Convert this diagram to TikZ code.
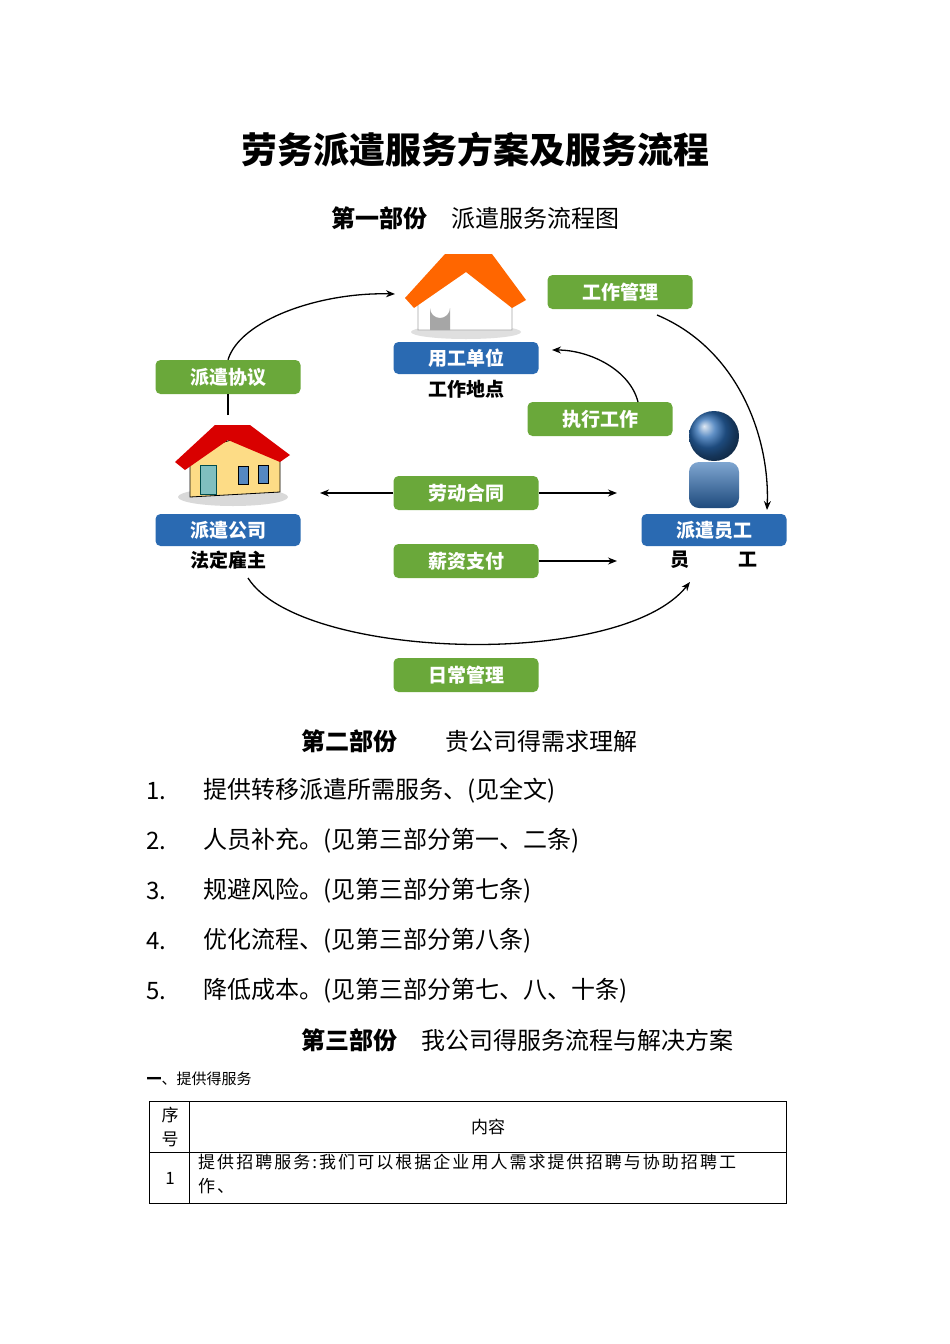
\documentclass[tikz,border=0pt]{standalone}
\usepackage{fontspec}
\setmainfont{Noto Sans CJK SC}
\usetikzlibrary{arrows.meta}
\definecolor{gbox}{HTML}{6AA83A}
\definecolor{bbox}{HTML}{2A6AB2}
\tikzset{
 gnode/.style={rounded corners=5pt,fill=gbox,text=white,font=\fontsize{19}{22}\selectfont\bfseries,minimum width=145pt,minimum height=34pt},
 bnode/.style={rounded corners=5pt,fill=bbox,text=white,font=\fontsize{19}{22}\selectfont\bfseries,minimum width=145pt,minimum height=32pt},
 klab/.style={font=\fontsize{19}{22}\selectfont\bfseries},
 arr/.style={-{Stealth[length=9pt,width=7pt]},line width=1.3pt},
 body/.style={font=\fontsize{24}{28}\selectfont,anchor=west},
}
\begin{document}
\begin{tikzpicture}[x=1pt,y=-1pt]
\useasboundingbox[fill=white] (0,0) rectangle (950,1344);
\node[font=\fontsize{36}{40}\selectfont\bfseries] (title) at (475,150) {劳务派遣服务方案及服务流程};
\node[font=\fontsize{24}{28}\selectfont] (p1) at (475,218) {\textbf{第一部份}\quad 派遣服务流程图};
% top house
\fill[gray!25] (466,332) ellipse (55 and 7);
\fill[white,draw=gray!70,line width=0.8pt] (418,290) -- (418,330) -- (512,330) -- (512,292) -- (466,262) -- cycle;
\fill[orange!80!red] (405,298) -- (445,254) -- (492,254) -- (526,300) -- (512,308) -- (466,272) -- (414,308) -- cycle;
\fill[gray!70] (430,330) -- (430,308) arc (180:0:10) -- (450,330) -- cycle;
% left house
\fill[gray!30] (233,497) ellipse (55 and 9);
\fill[yellow!45!orange!45,draw=black,line width=0.8pt] (190,452) -- (190,497) -- (280,492) -- (280,455) -- (238,438) -- cycle;
\fill[red!85!black] (175,462) -- (215,425) -- (250,425) -- (290,455) -- (280,462) -- (228,440) -- (185,470) -- cycle;
\fill[teal!50,draw=teal!60!black] (200,494) rectangle (216,465);
\fill[bbox!80,draw=black] (238,484) rectangle (248,466);
\fill[bbox!80,draw=black] (258,483) rectangle (268,465);
% person
\shade[ball color=bbox] (714,436) circle (25);
\shade[top color=bbox!60,bottom color=bbox!70!black,rounded corners=10pt] (689,462) rectangle (739,508);
% boxes
\node[gnode] (xy) at (228,377) {派遣协议};
\node[gnode] (gl) at (620,292) {工作管理};
\node[gnode] (zx) at (600,419) {执行工作};
\node[gnode] (ht) at (466,493) {劳动合同};
\node[gnode] (xz) at (466,561) {薪资支付};
\node[gnode] (rc) at (466,675) {日常管理};
\node[bnode] (yg) at (466,358) {用工单位};
\node[bnode] (pq) at (228,530) {派遣公司};
\node[bnode] (yy) at (714,530) {派遣员工};
\node[klab] (dd) at (466,389) {工作地点};
\node[klab] (gz) at (228,560) {法定雇主};
\node[klab] (y1) at (680,560) {员};
\node[klab] (y2) at (748,560) {工};
\coordinate (hl) at (228,415);
\coordinate (ht1) at (395,294);
\coordinate (la) at (320,493);
\coordinate (ra) at (617,493);
\coordinate (rb) at (617,561);
\coordinate (gs) at (657,315);
\coordinate (ge) at (767,510);
\coordinate (zs) at (638,402);
\coordinate (ze) at (552,350);
\coordinate (rs) at (248,578);
\coordinate (re) at (690,582);
\draw[line width=1.3pt] (hl) -- (xy.south);
\draw[arr] (xy.north) .. controls (240,320) and (320,292) .. (ht1);
\draw[arr] (gs) .. controls (740,350) and (770,440) .. (ge);
\draw[arr] (zs) .. controls (630,370) and (590,350) .. (ze);
\draw[arr] (ht.west) -- (la);
\draw[arr] (ht.east) -- (ra);
\draw[arr] (xz.east) -- (rb);
\draw[arr] (rs) .. controls (300,660) and (620,670) .. (re);
% text
\node[font=\fontsize{24}{28}\selectfont,anchor=west] (p2) at (298,741) {\textbf{第二部份}\qquad 贵公司得需求理解};
\foreach \n/\t [count=\i] in {1./提供转移派遣所需服务、(见全文), 2./人员补充。(见第三部分第一、二条), 3./规避风险。(见第三部分第七条), 4./优化流程、(见第三部分第八条), 5./降低成本。(见第三部分第七、八、十条)}{
  \node[body] (n\i) at (143,741+50*\i) {\n};
  \node[body] (t\i) at (200,741+50*\i) {\t};
}
\node[font=\fontsize{24}{28}\selectfont,anchor=west] (p3) at (298,1040) {\textbf{第三部份}\quad 我公司得服务流程与解决方案};
\node[font=\fontsize{15}{18}\selectfont,anchor=west] (s1) at (143,1079) {\textbf{一}、提供得服务};
\draw[line width=0.8pt] (149,1101) rectangle (786,1203);
\draw[line width=0.8pt] (189,1101) -- (189,1203);
\draw[line width=0.8pt] (149,1152) -- (786,1152);
\node[font=\fontsize{17}{24}\selectfont,align=center] (c1) at (170,1127) {序\\号};
\node[font=\fontsize{17}{20}\selectfont] (c2) at (488,1127) {内容};
\node[font=\fontsize{17}{20}\selectfont] (c3) at (170,1178) {1};
\node[font=\fontsize{17}{24}\selectfont,anchor=north west,align=left,inner sep=0pt] (c4) at (198,1154) {\addfontfeature{LetterSpace=12}提供招聘服务:我们可以根据企业用人需求提供招聘与协助招聘工\\\addfontfeature{LetterSpace=12}作、};
\end{tikzpicture}
\end{document}
